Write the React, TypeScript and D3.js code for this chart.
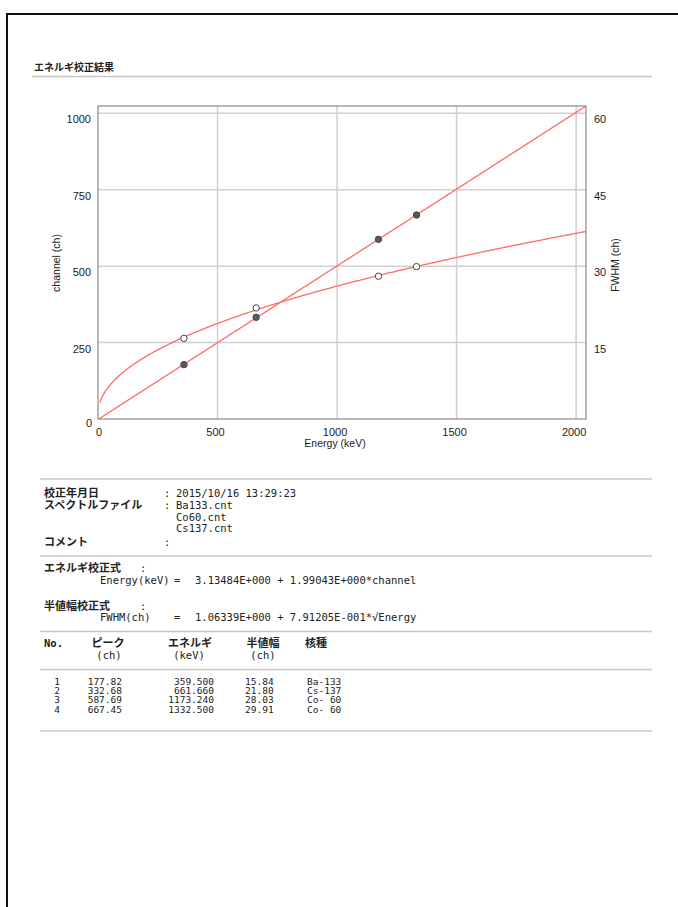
import React from "react";
import * as d3 from "d3";

const energies = [359.5, 661.66, 1173.24, 1332.5];
const peaks = [177.82, 332.68, 587.69, 667.45];
const fwhms = [15.84, 21.8, 28.03, 29.91];
const nuclides = ["Ba-133", "Cs-137", "Co- 60", "Co- 60"];
const energyCoef = [3.13484, 1.99043];
const fwhmCoef = [1.06339, 0.791205];
const channelMax = 1024;
const fwhmMax = 61.44;
const xTicks = [0, 500, 1000, 1500, 2000];
const yTicks = [0, 250, 500, 750, 1000];
const fwhmTicks = [15, 30, 45, 60];
const spectrumFiles = ["Ba133.cnt", "Co60.cnt", "Cs137.cnt"];

const JP = "'Noto Sans CJK JP', sans-serif";
const MONO = "'DejaVu Sans Mono', monospace";
const SANS = "'Liberation Sans', Arial, sans-serif";

export default function App() {
  const L = 98, R = 586, T = 106, B = 419;
  const xMax = energyCoef[0] + energyCoef[1] * channelMax;
  const x = d3.scaleLinear().domain([0, xMax]).range([L, R]);
  const y = d3.scaleLinear().domain([0, channelMax]).range([B, T]);
  const yF = d3.scaleLinear().domain([0, fwhmMax]).range([B, T]);

  const chans = d3.range(0, channelMax + 1, 2);
  const calLine = d3
    .line<number>()
    .x((c) => x(energyCoef[0] + energyCoef[1] * c))
    .y((c) => y(c))(chans.map((c) => Math.max(0, c - energyCoef[0] / energyCoef[1])));
  const fwhmLine = d3
    .line<number>()
    .x((c) => x(energyCoef[0] + energyCoef[1] * c))
    .y((c) => yF(fwhmCoef[0] + fwhmCoef[1] * Math.sqrt(energyCoef[0] + energyCoef[1] * c)))(
    chans.filter((c) => c >= 1)
  );

  const jpStyle = { fontFamily: JP, fontSize: 11, fontWeight: 700, fill: "#222" } as const;
  const monoStyle = { fontFamily: MONO, fontSize: 10.5, fill: "#222" } as const;
  const tblStyle = { fontFamily: MONO, fontSize: 9.5, fill: "#222" } as const;
  const rule = (yy: number, x1 = 40, x2 = 652) => (
    <line x1={x1} x2={x2} y1={yy} y2={yy} stroke="#c8c8c8" strokeWidth={1.5} />
  );

  const rowsY = [681, 690.3, 699.6, 709];

  return (
    <svg
      width={678}
      height={907}
      style={{ position: "absolute", left: 0, top: 0, background: "#fff" }}
    >
      <rect x={0} y={0} width={678} height={907} fill="#fff" />
      {/* page border */}
      <line x1={7} x2={678} y1={14} y2={14} stroke="#111" strokeWidth={2} />
      <line x1={7} x2={7} y1={13} y2={907} stroke="#111" strokeWidth={2} />

      {/* title */}
      <text x={34} y={71} style={{ ...jpStyle, fontSize: 10 }}>エネルギ校正結果</text>
      {rule(76.5, 32, 652)}

      {/* chart grid */}
      {xTicks.filter((t) => t > 0).map((t) => (
        <line key={"gx" + t} x1={x(t)} x2={x(t)} y1={T} y2={B} stroke="#cfcfcf" strokeWidth={1.5} />
      ))}
      {yTicks.filter((t) => t > 0).map((t) => (
        <line key={"gy" + t} x1={L} x2={R} y1={y(t)} y2={y(t)} stroke="#cfcfcf" strokeWidth={1.5} />
      ))}
      <rect x={L} y={T} width={R - L} height={B - T} fill="none" stroke="#8a8a8a" strokeWidth={1.2} />

      <defs>
        <clipPath id="plotclip">
          <rect x={L} y={T} width={R - L} height={B - T} />
        </clipPath>
      </defs>
      <g clipPath="url(#plotclip)">
        <path d={calLine || ""} fill="none" stroke="#ff6a6a" strokeWidth={1.3} />
        <path d={fwhmLine || ""} fill="none" stroke="#ff6a6a" strokeWidth={1.3} />
      </g>
      {energies.map((e, i) => (
        <circle key={"p" + i} cx={x(e)} cy={y(peaks[i])} r={3.2} fill="#5a5a5a" stroke="#444" strokeWidth={1} />
      ))}
      {energies.map((e, i) => (
        <circle key={"f" + i} cx={x(e)} cy={yF(fwhms[i])} r={3.2} fill="#fff" stroke="#444" strokeWidth={1} />
      ))}

      {/* left ticks */}
      {yTicks.map((t) => (
        <text key={"ly" + t} x={t === 0 ? 92 : 91} y={t === 0 ? 427 : y(t) + 10} textAnchor="end"
          style={{ fontFamily: SANS, fontSize: 11, fill: "#222" }}>{t}</text>
      ))}
      {fwhmTicks.map((t) => (
        <text key={"ry" + t} x={594} y={yF(t) + 10}
          style={{ fontFamily: SANS, fontSize: 11, fill: "#222" }}>{t}</text>
      ))}
      {xTicks.map((t) => (
        <text key={"tx" + t} x={x(t) - (t === 0 ? -1 : 2)} y={436} textAnchor="middle"
          style={{ fontFamily: SANS, fontSize: 11, fill: "#222" }}>{t}</text>
      ))}
      <text x={335} y={447} textAnchor="middle" style={{ fontFamily: SANS, fontSize: 10.5, fill: "#222" }}>
        Energy (keV)
      </text>
      <text transform="translate(60,263) rotate(-90)" textAnchor="middle"
        style={{ fontFamily: SANS, fontSize: 10.5, fill: "#222" }}>channel (ch)</text>
      <text transform="translate(619,265) rotate(-90)" textAnchor="middle"
        style={{ fontFamily: SANS, fontSize: 10.5, fill: "#222" }}>FWHM (ch)</text>

      {/* info */}
      {rule(479)}
      <text x={44} y={497} style={jpStyle}>校正年月日</text>
      <text x={164} y={497} style={monoStyle}>:</text>
      <text x={176} y={497} style={monoStyle}>2015/10/16 13:29:23</text>
      <text x={44} y={509} style={jpStyle}>スペクトルファイル</text>
      <text x={164} y={509} style={monoStyle}>:</text>
      {spectrumFiles.map((f, i) => (
        <text key={f} x={176} y={509 + 11.5 * i} style={monoStyle}>{f}</text>
      ))}
      <text x={44} y={546} style={jpStyle}>コメント</text>
      <text x={164} y={546} style={monoStyle}>:</text>
      {rule(556)}
      <text x={44} y={572} style={jpStyle}>エネルギ校正式</text>
      <text x={140} y={572} style={monoStyle}>:</text>
      <text x={100} y={584} style={monoStyle}>Energy(keV)</text>
      <text x={174} y={584} style={monoStyle}>=</text>
      <text x={195} y={584} style={monoStyle}>
        {energyCoef[0].toFixed(5)}E+000 + {energyCoef[1].toFixed(5)}E+000*channel
      </text>
      <text x={44} y={610} style={jpStyle}>半値幅校正式</text>
      <text x={140} y={610} style={monoStyle}>:</text>
      <text x={100} y={621} style={monoStyle}>FWHM(ch)</text>
      <text x={174} y={621} style={monoStyle}>=</text>
      <text x={195} y={621} style={monoStyle}>
        {fwhmCoef[0].toFixed(5)}E+000 + {(fwhmCoef[1] * 10).toFixed(5)}E-001*√Energy
      </text>

      {/* table */}
      {rule(631.5)}
      <text x={44} y={647} style={{ ...monoStyle, fontWeight: 700 }}>No.</text>
      <text x={108} y={647} textAnchor="middle" style={jpStyle}>ピーク</text>
      <text x={190} y={647} textAnchor="middle" style={jpStyle}>エネルギ</text>
      <text x={263} y={647} textAnchor="middle" style={jpStyle}>半値幅</text>
      <text x={316} y={647} textAnchor="middle" style={jpStyle}>核種</text>
      <text x={109} y={659} textAnchor="middle" style={monoStyle}>(ch)</text>
      <text x={189} y={659} textAnchor="middle" style={monoStyle}>(keV)</text>
      <text x={263} y={659} textAnchor="middle" style={monoStyle}>(ch)</text>
      {rule(669.5)}
      {energies.map((e, i) => (
        <g key={"row" + i}>
          <text x={60} y={rowsY[i] + 3.5} textAnchor="end" style={tblStyle}>{i + 1}</text>
          <text x={122} y={rowsY[i] + 3.5} textAnchor="end" style={tblStyle}>{peaks[i].toFixed(2)}</text>
          <text x={214} y={rowsY[i] + 3.5} textAnchor="end" style={tblStyle}>{e.toFixed(3)}</text>
          <text x={245} y={rowsY[i] + 3.5} style={tblStyle}>{fwhms[i].toFixed(2)}</text>
          <text x={307} y={rowsY[i] + 3.5} style={tblStyle}>{nuclides[i]}</text>
        </g>
      ))}
      {rule(731)}
    </svg>
  );
}
